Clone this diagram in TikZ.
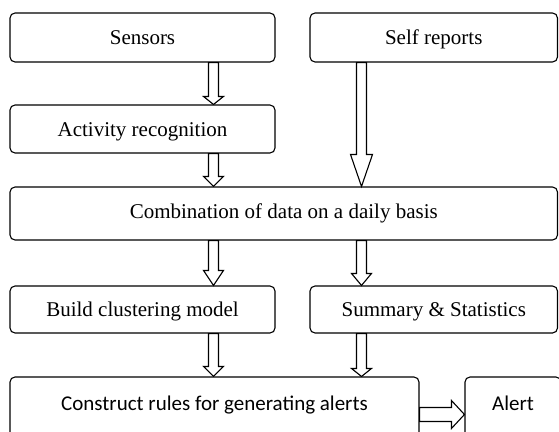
\documentclass[tikz,border=0pt]{standalone}
\usepackage{fontspec}
\setmainfont{Liberation Serif}
\newfontfamily\calib{Carlito}
\usetikzlibrary{calc}
\begin{document}
\begin{tikzpicture}[x=1pt,y=-1pt,
  box/.style={draw, line width=1.1pt, rounded corners=5pt, inner sep=0pt,
    font=\fontsize{21}{25}\selectfont, text height=17pt, text depth=3pt},
  cbox/.style={box, font=\calib\fontsize{21}{25}\selectfont, text height=14pt, text depth=8pt},
  blk/.style 2 args={draw, line width=1.1pt, fill=white,
    to path={let \p1=(\tikztostart), \p2=(\tikztotarget) in
      ({\x1-5pt},\y1) -- ({\x1-5pt},{\y2+#1}) -- ({\x1-#2},{\y2+#1}) -- (\x1,\y2)
      -- ({\x1+#2},{\y2+#1}) -- ({\x1+5pt},{\y2+#1}) -- ({\x1+5pt},\y1) -- cycle}},
  blkh/.style 2 args={draw, line width=1.1pt, fill=white,
    to path={let \p1=(\tikztostart), \p2=(\tikztotarget) in
      (\x1,{\y1+7pt}) -- ({\x2-#1},{\y1+7pt}) -- ({\x2-#1},{\y1+#2}) -- (\x2,\y1)
      -- ({\x2-#1},{\y1-#2}) -- ({\x2-#1},{\y1-7pt}) -- (\x1,{\y1-7pt}) -- cycle}}
]
\useasboundingbox (0,0) rectangle (559,431);
\clip (0,0) rectangle (559,431);

\node[box, minimum width=265pt, minimum height=49pt] (sensors) at (142.5,37.5) {Sensors};
\node[box, minimum width=247.5pt, minimum height=49pt] (self) at (433.75,37.5) {Self reports};
\node[box, minimum width=265pt, minimum height=48pt] (act) at (142.5,129) {Activity recognition};
\node[box, minimum width=547.5pt, minimum height=53pt, text depth=7pt] (comb) at (283.75,213.5) {Combination of data on a daily basis};
\node[box, minimum width=265pt, minimum height=47pt] (build) at (142.5,309.5) {Build clustering model};
\node[box, minimum width=247.5pt, minimum height=47pt] (summ) at (433.75,309.5) {Summary \& Statistics};
\node[cbox, minimum width=409pt, minimum height=60pt] (cons) at (214.5,407) {Construct rules for generating alerts};
\node[cbox, minimum width=96pt, minimum height=60pt] (alert) at (513,407) {Alert};

\coordinate (lx) at (213.5,0);
\coordinate (rx) at (361.5,0);
\coordinate (hy) at (0,414.5);

\draw[blk={8pt}{10pt}] (sensors.south -| lx) to (act.north -| lx);
\draw[blk={10pt}{10pt}] (act.south -| lx) to (comb.north -| lx);
\draw[blk={32pt}{11pt}] (self.south -| rx) to (comb.north -| rx);
\draw[blk={15pt}{10pt}] (comb.south -| lx) to (build.north -| lx);
\draw[blk={12pt}{10pt}] (comb.south -| rx) to (summ.north -| rx);
\draw[blk={10pt}{10pt}] (build.south -| lx) to (cons.north -| lx);
\draw[blk={8pt}{10pt}] (summ.south -| rx) to (cons.north -| rx);
\draw[blkh={13pt}{14pt}] (cons.east |- hy) to (alert.west |- hy);
\end{tikzpicture}
\end{document}
